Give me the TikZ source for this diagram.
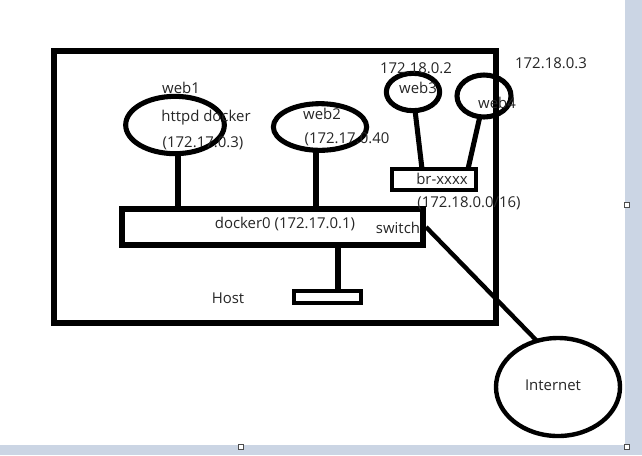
\documentclass[tikz,border=0pt]{standalone}
\usepackage{fontspec}
\setmainfont{Open Sans}
\usetikzlibrary{shapes.geometric}
\definecolor{frame}{RGB}{203,213,228}
\tikzset{
  shp/.style={draw=black, line width=3.8pt, inner sep=0pt},
  oval/.style={shp, ellipse},
  box/.style={shp, rectangle},
  wire/.style={draw=black, line width=3.8pt},
  lbl/.style={inner sep=0pt, font=\fontsize{11.2pt}{13pt}\selectfont, text=black!85},
  handle/.style={draw=black!70, fill=white, line width=0.5pt, minimum size=3.5pt, inner sep=0pt, rectangle}
}
\begin{document}
\begin{tikzpicture}[x=0.75pt, y=-0.75pt]
\useasboundingbox (0,0) rectangle (642,455);
\fill[frame] (0,0) rectangle (642,455);
\fill[white] (0,0) rectangle (625,445);
\node[handle] (h1) at (627,205) {};
\node[handle] (h2) at (627,447) {};
\node[handle] (h3) at (241,447) {};

% host
\node[box, minimum width=331.5pt, minimum height=204pt] (host) at (275,187) {};
% docker0 switch
\node[box, minimum width=225.75pt, minimum height=27pt] (docker) at (272.5,227) {};
% host nic
\node[box, line width=3pt, minimum width=50.25pt, minimum height=9pt] (nic) at (327.5,297) {};
% bridge
\node[box, line width=3pt, minimum width=63pt, minimum height=15.75pt] (br) at (434,179.5) {};

% ellipses
\node[oval, minimum width=74pt, minimum height=43pt] (web1) at (175,125) {};
\node[oval, minimum width=70pt, minimum height=35pt] (web2) at (320,127) {};
\node[oval, minimum width=40pt, minimum height=28pt] (web3) at (413,92) {};
\node[oval, minimum width=40.5pt, minimum height=31.5pt] (web4) at (484,96) {};
\node[oval, line width=3.3pt, minimum width=93pt, minimum height=73.5pt] (inet) at (558,387) {};

% connectors
\coordinate (d1) at (178,209);
\coordinate (d2) at (316,209);
\coordinate (d3) at (338,245);
\coordinate (n3) at (338,291);
\coordinate (b3) at (422,169);
\coordinate (b4) at (468,169);
\coordinate (w1) at (178,154);
\coordinate (w2) at (316,150);
\coordinate (w3) at (415,110);
\coordinate (w4) at (480,116);
\coordinate (sw) at (426,227);
\coordinate (ie) at (537,341);
\draw[wire] (w1) -- (d1);
\draw[wire] (w2) -- (d2);
\draw[wire] (d3) -- (n3);
\draw[wire] (w3) -- (b3);
\draw[wire] (w4) -- (b4);
\draw[wire, line width=3.3pt] (sw) -- (ie);

% labels
\node[lbl] (t1) at (181,88) {web1};
\node[lbl] (t2) at (206,118) {httpd docker};
\node[lbl] (t3) at (203,143) {(172.17.0.3)};
\node[lbl] (t4) at (322,114) {web2};
\node[lbl] (t5) at (347,139) {(172.17.0.40};
\node[lbl] (t6) at (416,68) {172.18.0.2};
\node[lbl] (t7) at (418,88) {web3};
\node[lbl] (t8) at (551,63) {172.18.0.3};
\node[lbl] (t9) at (497,103) {web4};
\node[lbl] (t10) at (442,179) {br-xxxx};
\node[lbl] (t11) at (469,203) {(172.18.0.0/16)};
\node[lbl] (t12) at (285,224) {docker0 (172.17.0.1)};
\node[lbl] (t13) at (398,228) {switch};
\node[lbl] (t14) at (228,298) {Host};
\node[lbl] (t15) at (553,385) {Internet};
\end{tikzpicture}
\end{document}
